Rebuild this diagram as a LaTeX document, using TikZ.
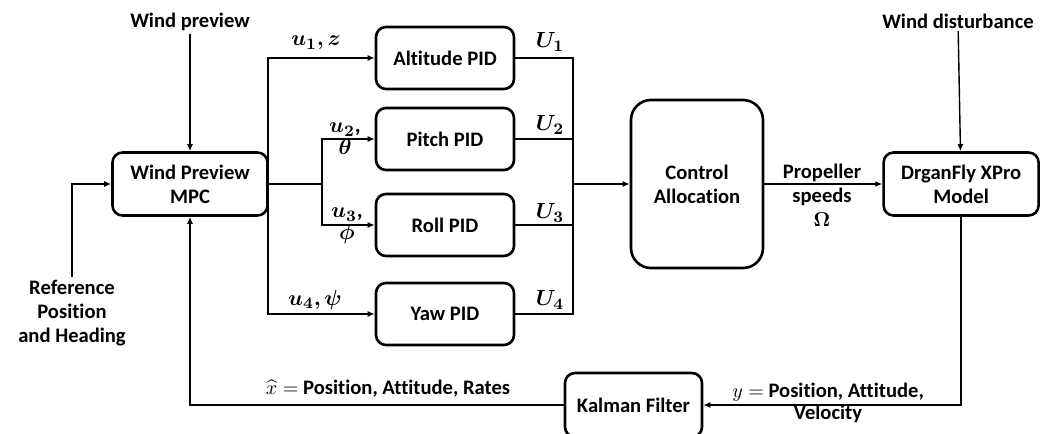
\documentclass[tikz,border=0pt]{standalone}
\usepackage[no-math]{fontspec}
\setmainfont{Carlito}[Ligatures=NoCommon]
\usepackage{amsmath}
\usepackage{bm}
\usetikzlibrary{positioning,arrows.meta}

\begin{document}
\begin{tikzpicture}[
  x=0.5pt, y=-0.5pt,
  line width=0.7pt,
  font=\fontsize{10.3}{12}\selectfont\bfseries,
  blk/.style={draw, line width=1.3pt, rounded corners=5pt, align=center, inner sep=2pt},
  pid/.style={blk, minimum width=69pt, minimum height=31pt},
  lbl/.style={align=center, inner sep=1pt},
  mlbl/.style={lbl, font=\fontsize{11.3}{12}\selectfont\bfseries},
  arr/.style={-{Latex[length=3.5pt,width=3pt]}}
]
\useasboundingbox (0,0) rectangle (1046,434);

% blocks
\node[blk, minimum width=77.5pt, minimum height=31.5pt] (mpc) at (190,184) {Wind Preview\\MPC};
\node[pid] (alt) at (445,58) {Altitude PID};
\node[pid] (pitch) at (445,139) {Pitch PID};
\node[pid] (roll) at (445,225) {Roll PID};
\node[pid] (yaw) at (445,314) {Yaw PID};
\node[blk, rounded corners=10pt, minimum width=66pt, minimum height=84pt] (ctrl) at (697,184) {Control\\Allocation};
\node[blk, minimum width=77.5pt, minimum height=31.5pt, right=59pt of ctrl] (model) {DrganFly XPro\\Model};
\node[blk, minimum width=68.5pt, minimum height=32pt] (kal) at (633.5,405) {Kalman Filter};

% inputs
\node[lbl] (wprev) at (190,22) {Wind preview};
\node[lbl] (wdist) at (958,21) {Wind disturbance};
\node[lbl] (ref) at (72,313) {Reference\\Position\\and Heading};

% branch points
\coordinate (jl) at (268,184);
\coordinate (ji) at (322,184);
\coordinate (jr) at (573,184);

\draw[arr] (wprev) -- (mpc);
\draw[arr] (ref) |- (mpc);
\draw[arr] (jl) |- (alt);
\draw[arr] (jl) |- (yaw);
\draw (mpc.east) -- (ji);
\draw[arr] (ji) |- (pitch);
\draw[arr] (ji) |- (roll);
\foreach \b in {alt,pitch,roll,yaw}
  \draw (\b) -| (jr);
\draw[arr, line width=1.2pt] (jr) -- (ctrl);
\draw[arr] (ctrl) -- (model);
\draw[arr] (wdist) -- (model);
\draw[arr] (model) |- (kal);
\draw[arr] (kal) -| (mpc);

% signal labels
\node[mlbl] (lu1) at (316,43) {$\boldsymbol{u_1, z}$};
\node[mlbl] (lu2) at (345,139) {$\boldsymbol{u_2}$,\\[-1pt]$\boldsymbol{\theta}$};
\node[mlbl] (lu3) at (347,226) {$\boldsymbol{u_3}$,\\[-1pt]$\boldsymbol{\phi}$};
\node[mlbl] (lu4) at (315,300) {$\boldsymbol{u_4, \psi}$};
\node[mlbl] (lU1) at (550,42) {$\boldsymbol{U_1}$};
\node[mlbl] (lU2) at (550,125) {$\boldsymbol{U_2}$};
\node[mlbl] (lU3) at (550,213) {$\boldsymbol{U_3}$};
\node[mlbl] (lU4) at (550,300) {$\boldsymbol{U_4}$};
\node[lbl] (prop) at (822,195) {Propeller\\speeds\\$\boldsymbol{\Omega}$};
\node[lbl] (ymeas) at (828,403) {$y =$ Position, Attitude,\\[-1pt]Velocity};
\node[lbl] (xest) at (388,389) {$\widehat{x} =$ Position, Attitude, Rates};
\end{tikzpicture}
\end{document}
